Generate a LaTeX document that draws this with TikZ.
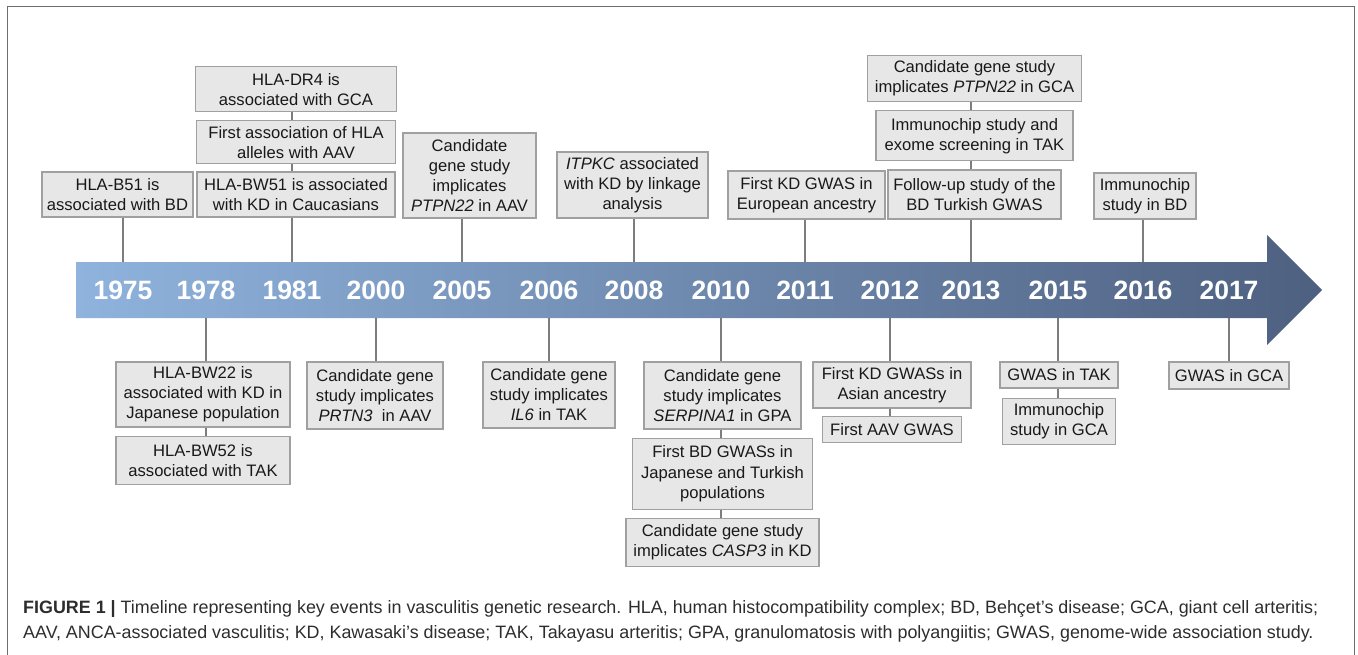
\documentclass[tikz,border=0pt]{standalone}
\usepackage{fontspec}
\setmainfont{Liberation Sans}
\usepackage{tikz}
\usetikzlibrary{positioning}

\definecolor{boxfill}{RGB}{231,231,231}
\definecolor{boxline}{RGB}{160,160,160}
\definecolor{linkgray}{RGB}{125,125,125}
\definecolor{barleft}{RGB}{143,179,221}
\definecolor{barmid}{RGB}{124,155,196}
\definecolor{barright}{RGB}{78,96,128}
\definecolor{framegray}{RGB}{110,110,110}
\definecolor{captext}{RGB}{45,45,45}

\newcommand{\evfont}{\fontsize{16.6}{20}\selectfont}
\newcommand{\yrfont}{\fontsize{26.5}{30}\selectfont\bfseries}
\newcommand{\capfont}{\fontsize{17.9}{25}\selectfont}

\tikzset{
    event/.style 2 args={draw=boxline, fill=boxfill, line width=1.2pt, align=center,
        inner sep=1pt, minimum width=#1pt, minimum height=#2pt, font=\evfont, text=black!90},
    year/.style={text=white, font=\yrfont, inner sep=0pt},
    link/.style={draw=linkgray, line width=1.3pt},
    capline/.style={anchor=base west, inner sep=0pt, font=\capfont, text=captext},
}

\begin{document}
\begin{tikzpicture}[x=1pt, y=-1pt]
            \useasboundingbox (0,0) rectangle (1358,654);
            \draw[framegray, line width=1.5pt] (7.5,660) -- (7.5,6.5) -- (1354.5,6.5) -- (1354.5,660);

            \path[left color=barleft, middle color=barmid, right color=barright]
                (76,262) -- (1267,262) -- (1267,235) -- (1322,290) -- (1267,345) -- (1267,318) -- (76,318) -- cycle;
            \coordinate (bartop) at (76,262);
            \coordinate (barbot) at (76,318);
            \foreach \yr/\xx in {1975/123, 1978/206, 1981/292, 2000/376, 2005/462, 2006/549, 2008/634,
                    2010/721, 2011/805, 2012/890, 2013/971, 2015/1058, 2016/1143, 2017/1229}{%
                    \node[year] (y\yr) at (\xx,290) {\yr};
                }

            \node[event={151}{45}] (b51) at (117.5,194.5) {HLA-B51 is\\associated with BD};
            \node[event={198}{45}] (bw51) at (296,194.5) {HLA-BW51 is associated\\with KD in Caucasians};
            \node[event={199}{43}, above=7pt of bw51] (hlaaav) {First association of HLA\\alleles with AAV};
            \node[event={201}{45}, above=8pt of hlaaav] (dr4) {HLA-DR4 is\\associated with GCA};
            \node[event={133}{85}] (ptpnaav) at (469.5,175.5) {Candidate\\gene study\\implicates\\\textit{PTPN22} in AAV};
            \node[event={151}{66}] (itpkc) at (632.5,185) {\textit{ITPKC} associated\\with KD by linkage\\analysis};
            \node[event={157}{48}] (kdeur) at (806.5,195) {First KD GWAS in\\European ancestry};
            \node[event={173}{49}] (turkish) at (974.5,194.5) {Follow-up study of the\\BD Turkish GWAS};
            \node[event={197}{50}, above=8pt of turkish] (chiptak) {Immunochip study and\\exome screening in TAK};
            \node[event={214}{46}, above=8pt of chiptak] (ptpngca) {Candidate gene study\\implicates \textit{PTPN22} in GCA};
            \node[event={102}{46}] (chipbd) at (1145,196) {Immunochip\\study in BD};

            \node[event={174}{65}] (bw22) at (203,394.5) {HLA-BW22 is\\associated with KD in\\Japanese population};
            \node[event={174}{48}, below=8pt of bw22] (bw52) {HLA-BW52 is\\associated with TAK};
            \node[event={136}{67}] (prtn3) at (375,395.5) {Candidate gene\\study implicates\\\textit{PRTN3}\ \ in AAV};
            \node[event={132}{66}] (il6) at (549,395) {Candidate gene\\study implicates\\\textit{IL6} in TAK};
            \node[event={157}{67}] (serpina) at (722.5,395.5) {Candidate gene\\study implicates\\\textit{SERPINA1} in GPA};
            \node[event={180}{71}, below=8pt of serpina] (bdgwas) {First BD GWASs in\\Japanese and Turkish\\populations};
            \node[event={193}{48}, below=8pt of bdgwas] (casp3) {Candidate gene study\\implicates \textit{CASP3} in KD};
            \node[event={158}{46}] (kdasia) at (892,385) {First KD GWASs in\\Asian ancestry};
            \node[event={139}{26}, below=7pt of kdasia] (aavgwas) {First AAV GWAS};
            \node[event={118}{26}] (gwastak) at (1059,375) {GWAS in TAK};
            \node[event={113}{46}, below=9pt of gwastak] (chipgca) {Immunochip\\study in GCA};
            \node[event={120}{27}] (gwasgca) at (1229,375.5) {GWAS in GCA};

            \foreach \bx/\yr in {b51/1975, bw51/1981, ptpnaav/2005, itpkc/2008, kdeur/2011, turkish/2013, chipbd/2016}{%
                    \draw[link] (\bx.south -| y\yr) -- (bartop -| y\yr);
                }
            \foreach \bx/\yr in {bw22/1978, prtn3/2000, il6/2006, serpina/2010, kdasia/2012, gwastak/2015, gwasgca/2017}{%
                    \draw[link] (barbot -| y\yr) -- (\bx.north -| y\yr);
                }
            \foreach \ba/\bb/\yr in {dr4/hlaaav/1981, hlaaav/bw51/1981, ptpngca/chiptak/2013, chiptak/turkish/2013,
                    bw22/bw52/1978, serpina/bdgwas/2010, bdgwas/casp3/2010, kdasia/aavgwas/2012, gwastak/chipgca/2015}{%
                    \draw[link] (\ba.south -| y\yr) -- (\bb.north -| y\yr);
                }

            \node[capline] (cap1) at (23,613) {\textbf{FIGURE 1 |} Timeline representing key events in vasculitis genetic research. HLA, human histocompatibility complex; BD, Behçet’s disease; GCA, giant cell arteritis;};
            \node[capline] (cap2) at (23,638) {AAV, ANCA-associated vasculitis; KD, Kawasaki’s disease; TAK, Takayasu arteritis; GPA, granulomatosis with polyangiitis; GWAS, genome-wide association study.};
        \end{tikzpicture}
\end{document}
